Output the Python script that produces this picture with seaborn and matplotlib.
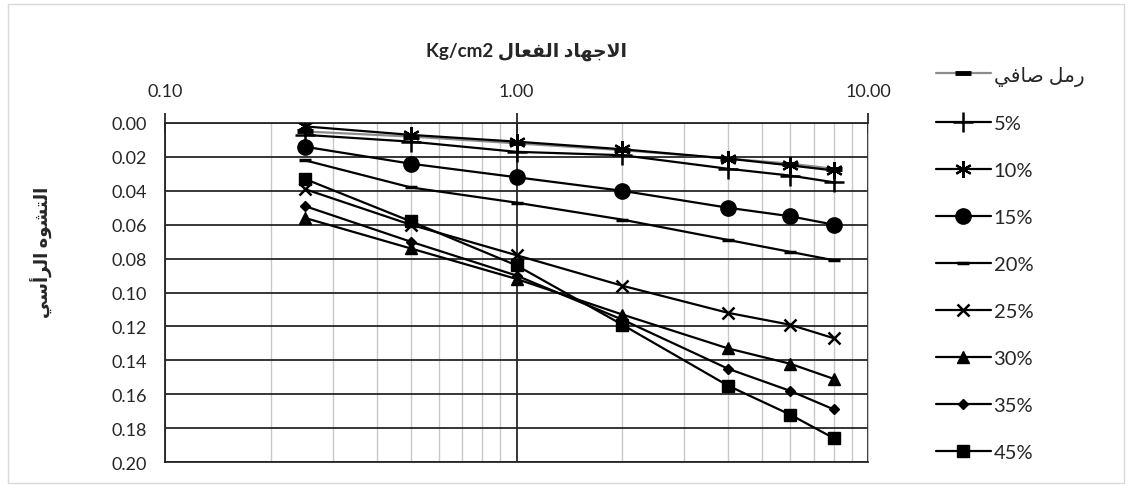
import matplotlib.pyplot as plt
import numpy as np
import pandas as pd
import seaborn as sns
from matplotlib.patches import Rectangle
from matplotlib.ticker import FixedLocator, LogLocator, NullFormatter

# matplotlib does no Arabic shaping, so the Arabic texts are written in
# presentation forms and in visual (left to right) order
LABEL_SAND = "\ufef2\ufed3\ufe8e\ufebb \ufede\ufee3\ufead"          # رمل صافي
TITLE = "Kg/cm2 \ufedd\ufe8e\ufecc\ufed4\ufedf\ufe8d \ufea9\ufe8e\ufeec\ufe9f\ufefb\ufe8d"  # الاجهاد الفعال
YLABEL = "\ufef2\ufeb3\ufe83\ufeae\ufedf\ufe8d \ufee9\ufeee\ufeb8\ufe98\ufedf\ufe8d"        # التشوه الرأسي

STRESS = [0.25, 0.5, 1, 2, 4, 6, 8]

SERIES = [LABEL_SAND, "5%", "10%", "15%", "20%", "25%", "30%", "35%", "45%"]
strain_sand = [0.005, 0.008, 0.012, 0.016, 0.021, 0.024, 0.027]
strain_05 = [0.007, 0.011, 0.017, 0.019, 0.027, 0.031, 0.035]
strain_10 = [0.002, 0.007, 0.011, 0.0155, 0.021, 0.025, 0.028]
strain_15 = [0.014, 0.024, 0.032, 0.040, 0.050, 0.055, 0.060]
strain_20 = [0.022, 0.038, 0.047, 0.057, 0.069, 0.076, 0.081]
strain_25 = [0.039, 0.060, 0.078, 0.096, 0.112, 0.119, 0.127]
strain_30 = [0.056, 0.074, 0.092, 0.113, 0.133, 0.142, 0.151]
strain_35 = [0.049, 0.070, 0.090, 0.116, 0.145, 0.158, 0.169]
strain_45 = [0.033, 0.058, 0.084, 0.119, 0.155, 0.172, 0.186]

X_TICKS = [0.1, 1, 10]
X_TICK_LABELS = ["0.10", "1.00", "10.00"]
Y_TICKS = np.linspace(0, 0.2, 11)

# marker, size, edge width, line colour
STYLES = {
    LABEL_SAND: ("_", 12, 3.5, "#8c8c8c"),
    "5%": ("+", 15, 1.8, "black"),
    "10%": ((6, 2, 0), 12, 1.6, "black"),
    "15%": ("o", 11, 1.0, "black"),
    "20%": ("_", 8, 2.5, "black"),
    "25%": ("x", 9, 1.8, "black"),
    "30%": ("^", 8, 1.0, "black"),
    "35%": ("D", 5.5, 1.0, "black"),
    "45%": ("s", 8, 1.0, "black"),
}


def build_frame() -> pd.DataFrame:
    values = [strain_sand, strain_05, strain_10, strain_15, strain_20,
              strain_25, strain_30, strain_35, strain_45]
    rows = []
    for name, strains in zip(SERIES, values):
        for s, e in zip(STRESS, strains):
            rows.append({"series": name, "stress": s, "strain": e})
    return pd.DataFrame(rows)


def main() -> None:
    sns.set_style("white")
    plt.rcParams["font.family"] = ["Lato", "DejaVu Sans"]

    df = build_frame()
    fig = plt.figure(figsize=(11.3, 4.89), dpi=100)
    ax = fig.add_axes([165 / 1130, 1 - 463 / 489, 703 / 1130, 339 / 489])

    for name in SERIES:
        marker, size, mew, color = STYLES[name]
        sns.lineplot(
            data=df[df["series"] == name], x="stress", y="strain",
            marker=marker, markersize=size, markeredgewidth=mew,
            markeredgecolor="black", markerfacecolor="black",
            color=color, linewidth=1.6, label=name, ax=ax, zorder=3,
        )

    ax.set_xscale("log")
    ax.set_xlim(0.1, 10)
    ax.set_ylim(0.2, 0)
    ax.xaxis.tick_top()
    ax.xaxis.set_major_locator(FixedLocator(X_TICKS))
    ax.set_xticklabels(X_TICK_LABELS)
    ax.xaxis.set_minor_locator(LogLocator(base=10, subs=np.arange(2, 10)))
    ax.xaxis.set_minor_formatter(NullFormatter())
    ax.set_yticks(Y_TICKS)
    ax.set_yticklabels([f"{v:.2f}" for v in Y_TICKS])

    ax.grid(which="major", color="#262626", linewidth=1.3)
    ax.grid(which="minor", axis="x", color="#c8c8c8", linewidth=1.0)
    ax.tick_params(axis="y", which="major", direction="inout", length=14, width=1.3,
                   color="#262626", labelsize=13, pad=6, labelcolor="#262626")
    ax.tick_params(axis="x", which="major", direction="inout", length=14, width=1.3,
                   color="#262626", labelsize=13, pad=10, labelcolor="#262626")
    ax.tick_params(axis="x", which="minor", length=0)
    for side in ["left", "top", "bottom"]:
        ax.spines[side].set_color("#262626")
        ax.spines[side].set_linewidth(1.3)
    ax.spines["right"].set_color("#c8c8c8")

    ax.set_xlabel("")
    ax.set_ylabel(YLABEL, fontsize=13, fontweight="bold", color="#262626")
    ax.yaxis.set_label_coords(-0.159, 0.62)
    fig.text(526 / 1130, 1 - 52 / 489, TITLE, ha="center", va="center",
             fontsize=13.5, fontweight="bold", color="#262626")

    handles, labels = ax.get_legend_handles_labels()
    ax.legend(handles, labels, loc="upper left", bbox_to_anchor=(918 / 1130, 0.901),
              bbox_transform=fig.transFigure, frameon=False, fontsize=14.5,
              handlelength=2.7, handletextpad=0.15, labelspacing=1.48,
              labelcolor="#262626")

    fig.patches.append(Rectangle((8 / 1130, 5 / 489), 1116 / 1130, 479 / 489,
                                 transform=fig.transFigure, fill=False,
                                 edgecolor="#d9d9d9", linewidth=1.0))
    fig.savefig("out.png", dpi=100)


if __name__ == "__main__":
    main()
